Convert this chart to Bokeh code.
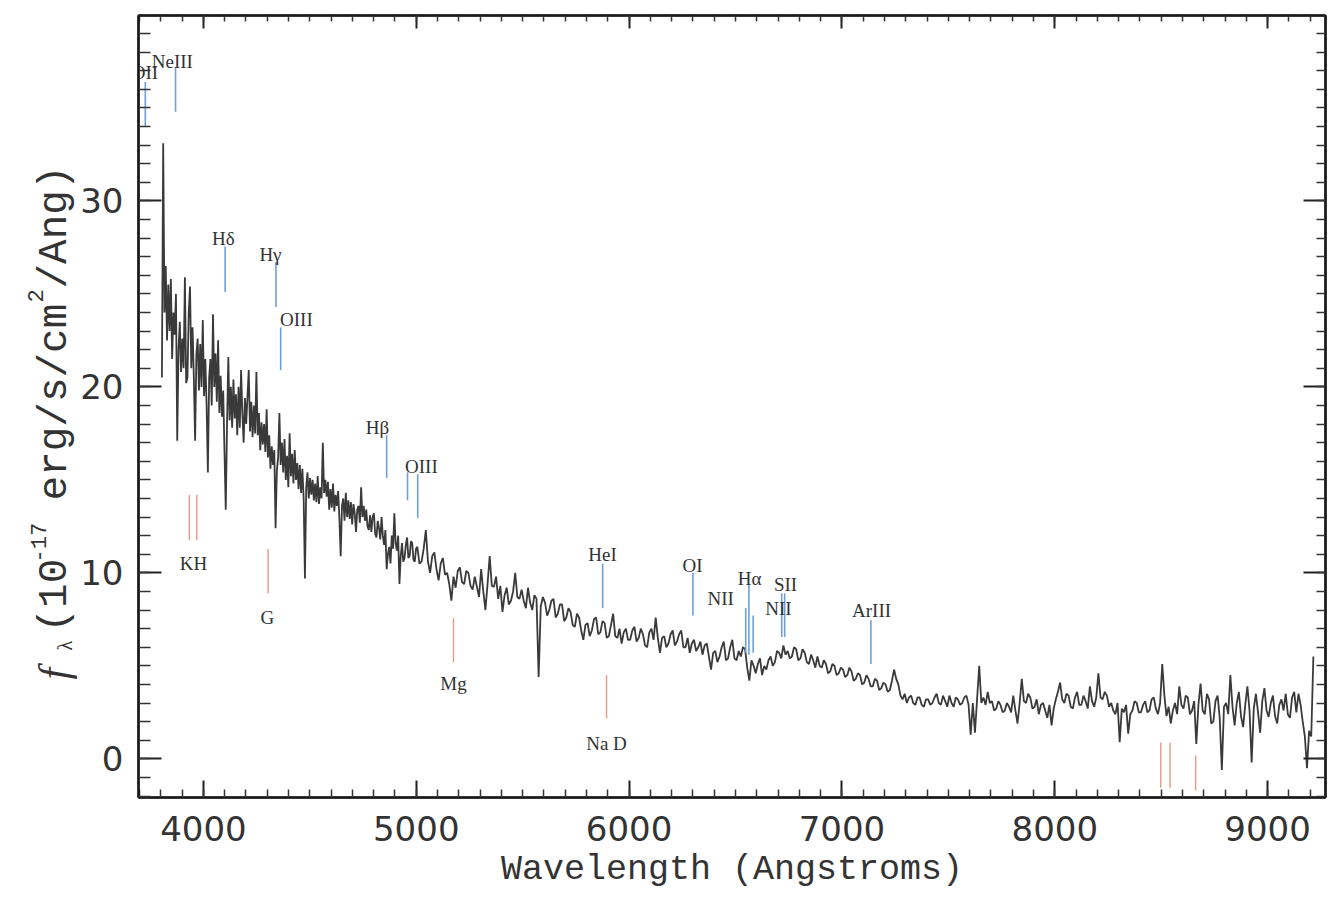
import math
from bokeh.plotting import figure
from bokeh.layouts import row
from bokeh.models import (ColumnDataSource, LinearAxis, SingleIntervalTicker,
                          Range1d, CustomJSTickFormatter)
from bokeh.core.properties import value
from bokeh.embed import file_html
from bokeh.resources import INLINE

# ---------------- spectrum ----------------
wave_blue = list(range(3805, 5000, 6))
flux_blue = [
    20.5, 33.1, 24.0, 26.5, 22.5, 25.5, 23.0, 25.8, 21.5, 24.0,
    22.8, 25.0, 17.1, 22.0, 23.5, 20.8, 22.6, 21.0, 25.9, 20.2,
    20.5, 24.0, 25.4, 21.0, 23.2, 20.5, 17.1, 21.8, 22.6, 19.8,
    22.3, 20.0, 23.6, 19.5, 21.5, 19.0, 15.4, 20.5, 21.5, 19.0,
    23.9, 20.0, 21.8, 19.2, 22.5, 18.6, 20.6, 18.4, 19.8, 16.5,
    13.4, 18.0, 21.6, 18.2, 20.0, 17.8, 20.4, 18.3, 19.6, 17.4,
    20.0, 17.8, 20.9, 18.6, 17.0, 19.4, 18.0, 19.5, 20.9, 17.6,
    19.2, 17.3, 19.0, 17.5, 20.8, 17.4, 18.6, 16.6, 18.1, 16.9,
    18.0, 16.5, 18.8, 16.2, 17.4, 15.6, 16.8, 15.8, 16.6, 12.4,
    15.5, 16.2, 18.6, 15.8, 17.0, 15.4, 17.2, 15.0, 16.3, 14.6,
    17.5, 15.2, 16.4, 14.8, 16.6, 15.0, 15.9, 14.5, 15.8, 14.3,
    15.6, 14.0, 9.7, 14.6, 15.4, 14.0, 15.1, 14.2, 15.0, 13.9,
    14.8, 13.8, 15.2, 13.7, 14.6, 14.0, 17.0, 14.3, 15.0, 14.1,
    14.9, 13.4, 14.5, 13.5, 14.8, 13.3, 14.2, 13.6, 14.4, 12.9,
    10.9, 13.6, 14.0, 12.8, 14.3, 13.0, 13.9, 12.9, 13.8, 12.6,
    13.7, 13.2, 12.2, 13.4, 13.6, 12.7, 14.6, 13.0, 13.6, 12.8,
    13.4, 12.5, 12.3, 13.1, 12.2, 13.0, 13.2, 12.1, 11.9, 12.8,
    12.4, 11.8, 13.0, 12.0, 11.5, 12.3, 10.2, 11.0, 11.4, 10.5,
    12.0, 11.3, 13.2, 11.6, 11.2, 12.0, 9.4, 10.9, 11.6, 10.6,
    10.8, 11.5, 11.9, 10.8, 10.9, 11.7, 11.6, 10.7, 10.6, 11.3,
]
wave_red = list(range(5005, 9216, 10))
flux_red = [
    11.4, 10.5, 10.6, 11.3, 12.3, 10.6, 10.0, 10.9, 11.1, 10.2,
    9.6, 10.5, 10.8, 9.9, 10.0, 9.4, 8.5, 9.8, 9.2, 10.1,
    10.3, 9.5, 9.4, 10.1, 10.0, 9.3, 9.1, 9.8, 9.25, 8.7,
    10.2, 9.0, 8.0, 9.4, 10.9, 9.3, 9.25, 9.8, 8.6, 9.3,
    7.9, 8.8, 9.2, 8.3, 8.5, 9.0, 10.0, 8.7, 8.6, 9.1,
    8.5, 8.1, 9.2, 8.4, 8.0, 8.8, 8.6, 4.4, 8.2, 8.7,
    8.4, 7.7, 8.0, 8.5, 8.6, 7.6, 7.8, 8.3, 8.3, 7.4,
    7.6, 8.1, 7.9, 7.2, 7.1, 7.8, 7.6, 6.9, 6.4, 7.2,
    7.3, 6.6, 6.9, 7.5, 7.6, 6.7, 6.8, 7.4, 7.3, 6.5,
    6.6, 7.2, 7.8, 6.6, 6.5, 7.0, 6.2, 6.8, 7.0, 6.4,
    6.4, 6.9, 7.1, 6.3, 6.5, 7.0, 6.7, 6.1, 6.0, 6.8,
    7.0, 6.4, 7.6, 6.5, 5.7, 6.5, 6.6, 6.0, 6.2, 6.7,
    6.9, 6.1, 6.3, 6.7, 6.9, 6.0, 6.0, 6.5, 5.7, 6.2,
    6.4, 5.8, 6.0, 6.3, 5.6, 6.1, 6.2, 5.5, 4.8, 5.7,
    5.8, 5.2, 5.5, 6.0, 6.3, 5.3, 5.4, 6.0, 6.4, 5.4,
    5.3, 5.8, 5.5, 6.0, 5.9, 4.9, 4.2, 5.3, 5.0, 4.6,
    5.1, 5.4, 4.5, 5.0, 4.8, 5.3, 5.5, 5.0, 5.2, 5.8,
    5.7, 5.4, 6.1, 5.6, 5.8, 5.4, 5.5, 6.0, 5.9, 5.3,
    5.4, 5.9, 5.7, 5.2, 5.1, 5.6, 5.3, 4.9, 5.5, 5.0,
    4.9, 5.3, 5.1, 4.6, 4.7, 5.1, 5.0, 4.5, 4.6, 4.9,
    4.8, 4.4, 4.5, 4.9, 4.7, 4.2, 4.3, 4.6, 4.5, 4.0,
    4.1, 4.5, 4.3, 3.9, 3.9, 4.3, 4.2, 3.7, 3.8, 4.1,
    4.0, 3.6, 3.7, 4.2, 4.8, 4.3, 4.0, 3.4, 3.2, 3.5,
    3.0, 3.3, 3.4, 3.0, 2.9, 3.3, 3.3, 2.9, 2.8, 3.2,
    3.2, 2.9, 3.0, 3.3, 3.5, 3.0, 2.9, 3.4, 3.1, 2.8,
    3.4, 3.0, 2.8, 3.3, 3.2, 2.9, 3.0, 3.3, 3.4, 2.9,
    1.3, 3.0, 1.4, 3.2, 5.0, 3.0, 3.3, 2.9, 3.6, 3.0,
    3.1, 2.6, 2.7, 3.1, 2.9, 2.5, 2.6, 3.0, 2.8, 2.5,
    3.4, 2.6, 1.9, 3.0, 4.3, 3.1, 3.0, 3.5, 3.3, 2.7,
    2.8, 3.2, 2.4, 2.9, 3.0, 2.6, 2.2, 2.9, 1.8, 2.7,
    3.2, 3.6, 4.1, 3.2, 3.0, 3.5, 3.4, 2.8, 2.7, 3.3,
    3.6, 2.9, 2.9, 3.4, 3.1, 2.7, 3.9, 3.1, 2.8, 3.3,
    4.6, 3.3, 3.2, 3.6, 3.4, 2.8, 3.0, 2.6, 2.4, 3.0,
    0.9, 2.7, 2.5, 2.9, 1.35, 2.4, 2.6, 3.1, 3.0, 2.5,
    2.5, 2.9, 3.1, 2.5, 2.6, 3.2, 3.3, 2.7, 2.4, 3.0,
    5.1, 3.4, 2.3, 2.8, 1.9, 2.6, 3.0, 2.4, 3.9, 2.9,
    2.7, 3.4, 3.3, 2.4, 2.6, 3.1, 0.8, 2.9, 4.05, 2.6,
    2.4, 3.5, 3.2, 1.9, 2.0, 3.1, 3.4, 2.2, -0.6, 2.8,
    3.0, 2.4, 4.5, 2.8, 1.8, 3.0, 3.6, 2.3, 1.7, 2.9,
    3.9, 2.6, -0.2, 2.7, 3.5, 2.5, 1.4, 3.1, 3.8, 2.6,
    2.25, 3.0, 3.4, 2.3, 1.9, 2.9, 3.2, 2.6, 3.5, 2.4,
    2.2, 3.3, 3.6, 2.5, 3.5, 2.9, 2.0, 1.2, -0.5, 1.5,
    1.2, 5.5,
]

# ---------------- line markers ----------------
em_wave = [3727, 3869, 4102, 4341, 4363, 4861, 4959, 5007,
           5876, 6300, 6548, 6563, 6583, 6717, 6731, 7136]
em_lo = [34.0, 34.8, 25.1, 24.3, 20.9, 15.1, 13.9, 12.95,
         8.1, 7.7, 5.7, 5.6, 5.7, 6.55, 6.55, 5.1]
em_hi = [36.4, 37.2, 27.55, 26.7, 23.2, 17.4, 15.4, 15.3,
         10.5, 10.0, 8.1, 9.35, 7.7, 8.9, 8.9, 7.45]

ab_wave = [3934, 3969, 4304, 5175, 5894, 8498, 8542, 8662]
ab_lo = [11.76, 11.76, 8.9, 5.2, 2.17, -1.55, -1.55, -1.7]
ab_hi = [14.2, 14.2, 11.3, 7.56, 4.5, 0.88, 0.88, 0.18]

lab_text = ["OII", "NeIII", "Hδ", "Hγ", "OIII", "Hβ", "OIII", "KH", "G",
            "Mg", "Na D", "HeI", "OI", "NII", "Hα", "NII", "SII", "ArIII"]
lab_x = [3725, 3854, 4094, 4315, 4437, 4818, 5024, 3953, 4301,
         5175, 5894, 5875, 6298, 6430, 6566, 6702, 6735, 7139]
lab_y = [36.9, 37.5, 28.0, 27.1, 23.6, 17.8, 15.7, 10.5, 7.6,
         4.05, 0.83, 11.0, 10.4, 8.6, 9.7, 8.1, 9.35, 8.0]

# y-axis title, written in pieces (f, subscript lambda, superscripts)
ytitle_parts = ["f", "λ", "(10", "-17", "erg/s/cm", "2", "/Ang)"]

wave = wave_blue + wave_red
flux = flux_blue + flux_red

STRIP_W = 77

# ---------------- main plot ----------------
p = figure(width=1329 - STRIP_W, height=900,
           x_range=Range1d(3695, 9272), y_range=Range1d(-2.08, 39.97),
           output_backend="svg", toolbar_location=None,
           min_border_left=138 - STRIP_W, min_border_right=4,
           min_border_top=15, min_border_bottom=103)
p.background_fill_color = "white"
p.border_fill_color = "white"
p.outline_line_color = "#1a1a1a"
p.outline_line_width = 2
p.xgrid.visible = False
p.ygrid.visible = False

p.line(wave, flux, line_color="#3a3a3a", line_width=1.8)

p.segment(x0=em_wave, y0=em_lo, x1=em_wave, y1=em_hi,
          line_color="#6f9fd6", line_width=1.6)
p.segment(x0=ab_wave, y0=ab_lo, x1=ab_wave, y1=ab_hi,
          line_color="#e39a88", line_width=1.4)

src = ColumnDataSource(dict(x=lab_x, y=lab_y, t=lab_text))
p.text(x="x", y="y", text="t", source=src, text_align="center",
       text_baseline="alphabetic", text_font=value("Liberation Serif"),
       text_font_size="19px", text_color="#333333")


def style(ax, major_in, minor_in):
    ax.major_tick_in = major_in
    ax.major_tick_out = 0
    ax.minor_tick_in = minor_in
    ax.minor_tick_out = 0
    ax.axis_line_color = "#1a1a1a"
    ax.axis_line_width = 2.5
    ax.major_tick_line_color = "#222222"
    ax.major_tick_line_width = 2
    ax.minor_tick_line_color = "#333333"
    ax.minor_tick_line_width = 1.5


xa = p.xaxis[0]
xa.ticker = SingleIntervalTicker(interval=1000, num_minor_ticks=10)
style(xa, 17, 8)
xa.major_label_text_font = "DejaVu Sans"
xa.major_label_text_font_size = "34px"
xa.major_label_text_color = "#333333"
xa.major_label_standoff = 18
xa.axis_label = "Wavelength (Angstroms)"
xa.axis_label_text_font = "Liberation Mono"
xa.axis_label_text_font_size = "35px"
xa.axis_label_text_font_style = "normal"
xa.axis_label_text_color = "#333333"
xa.axis_label_standoff = 6

ya = p.yaxis[0]
ya.ticker = SingleIntervalTicker(interval=10, num_minor_ticks=10)
style(ya, 23, 12)
ya.major_label_text_font = "DejaVu Sans"
ya.major_label_text_font_size = "34px"
ya.major_label_text_color = "#333333"
ya.major_label_standoff = 15

blank = CustomJSTickFormatter(code="return ''")
top = LinearAxis(ticker=SingleIntervalTicker(interval=1000, num_minor_ticks=10),
                 formatter=blank, major_label_standoff=0)
style(top, 13, 6)
right = LinearAxis(ticker=SingleIntervalTicker(interval=10, num_minor_ticks=10),
                   formatter=blank, major_label_standoff=0)
style(right, 22, 9)
p.add_layout(top, "above")
p.add_layout(right, "right")

# ---------------- narrow strip holding the rotated y title ----------------
# strip frame is aligned with the main frame; units are pixels
# (x from the strip's left edge, y = 900 - distance from the page top)
yt_x = [53, 64, 54, 38, 54, 35, 54]
yt_y = [221, 250, 268, 338, 400, 598, 612]
yt_font = ["Liberation Serif", "Liberation Serif", "Liberation Mono",
           "Liberation Mono", "Liberation Mono", "Liberation Mono",
           "Liberation Mono"]
yt_size = ["42px", "20px", "41px", "22px", "41px", "22px", "41px"]
yt_style = ["italic", "normal", "normal", "normal", "normal", "normal",
            "normal"]

s = figure(width=STRIP_W, height=900, x_range=Range1d(0, STRIP_W),
           y_range=Range1d(103, 885), output_backend="svg",
           toolbar_location=None, x_axis_location=None,
           y_axis_location=None, min_border=0,
           min_border_top=15, min_border_bottom=103)
s.outline_line_color = None
s.background_fill_color = "white"
s.border_fill_color = "white"
s.xgrid.visible = False
s.ygrid.visible = False
ysrc = ColumnDataSource(dict(x=yt_x, y=yt_y, t=ytitle_parts, f=yt_font,
                             sz=yt_size, st=yt_style))
s.text(x="x", y="y", text="t", source=ysrc, angle=math.pi / 2,
       text_font="f", text_font_size="sz", text_font_style="st",
       text_align="left", text_baseline="alphabetic", text_color="#333333")

layout = row(s, p, spacing=0)
open("out.html", "w").write(file_html(layout, INLINE))
